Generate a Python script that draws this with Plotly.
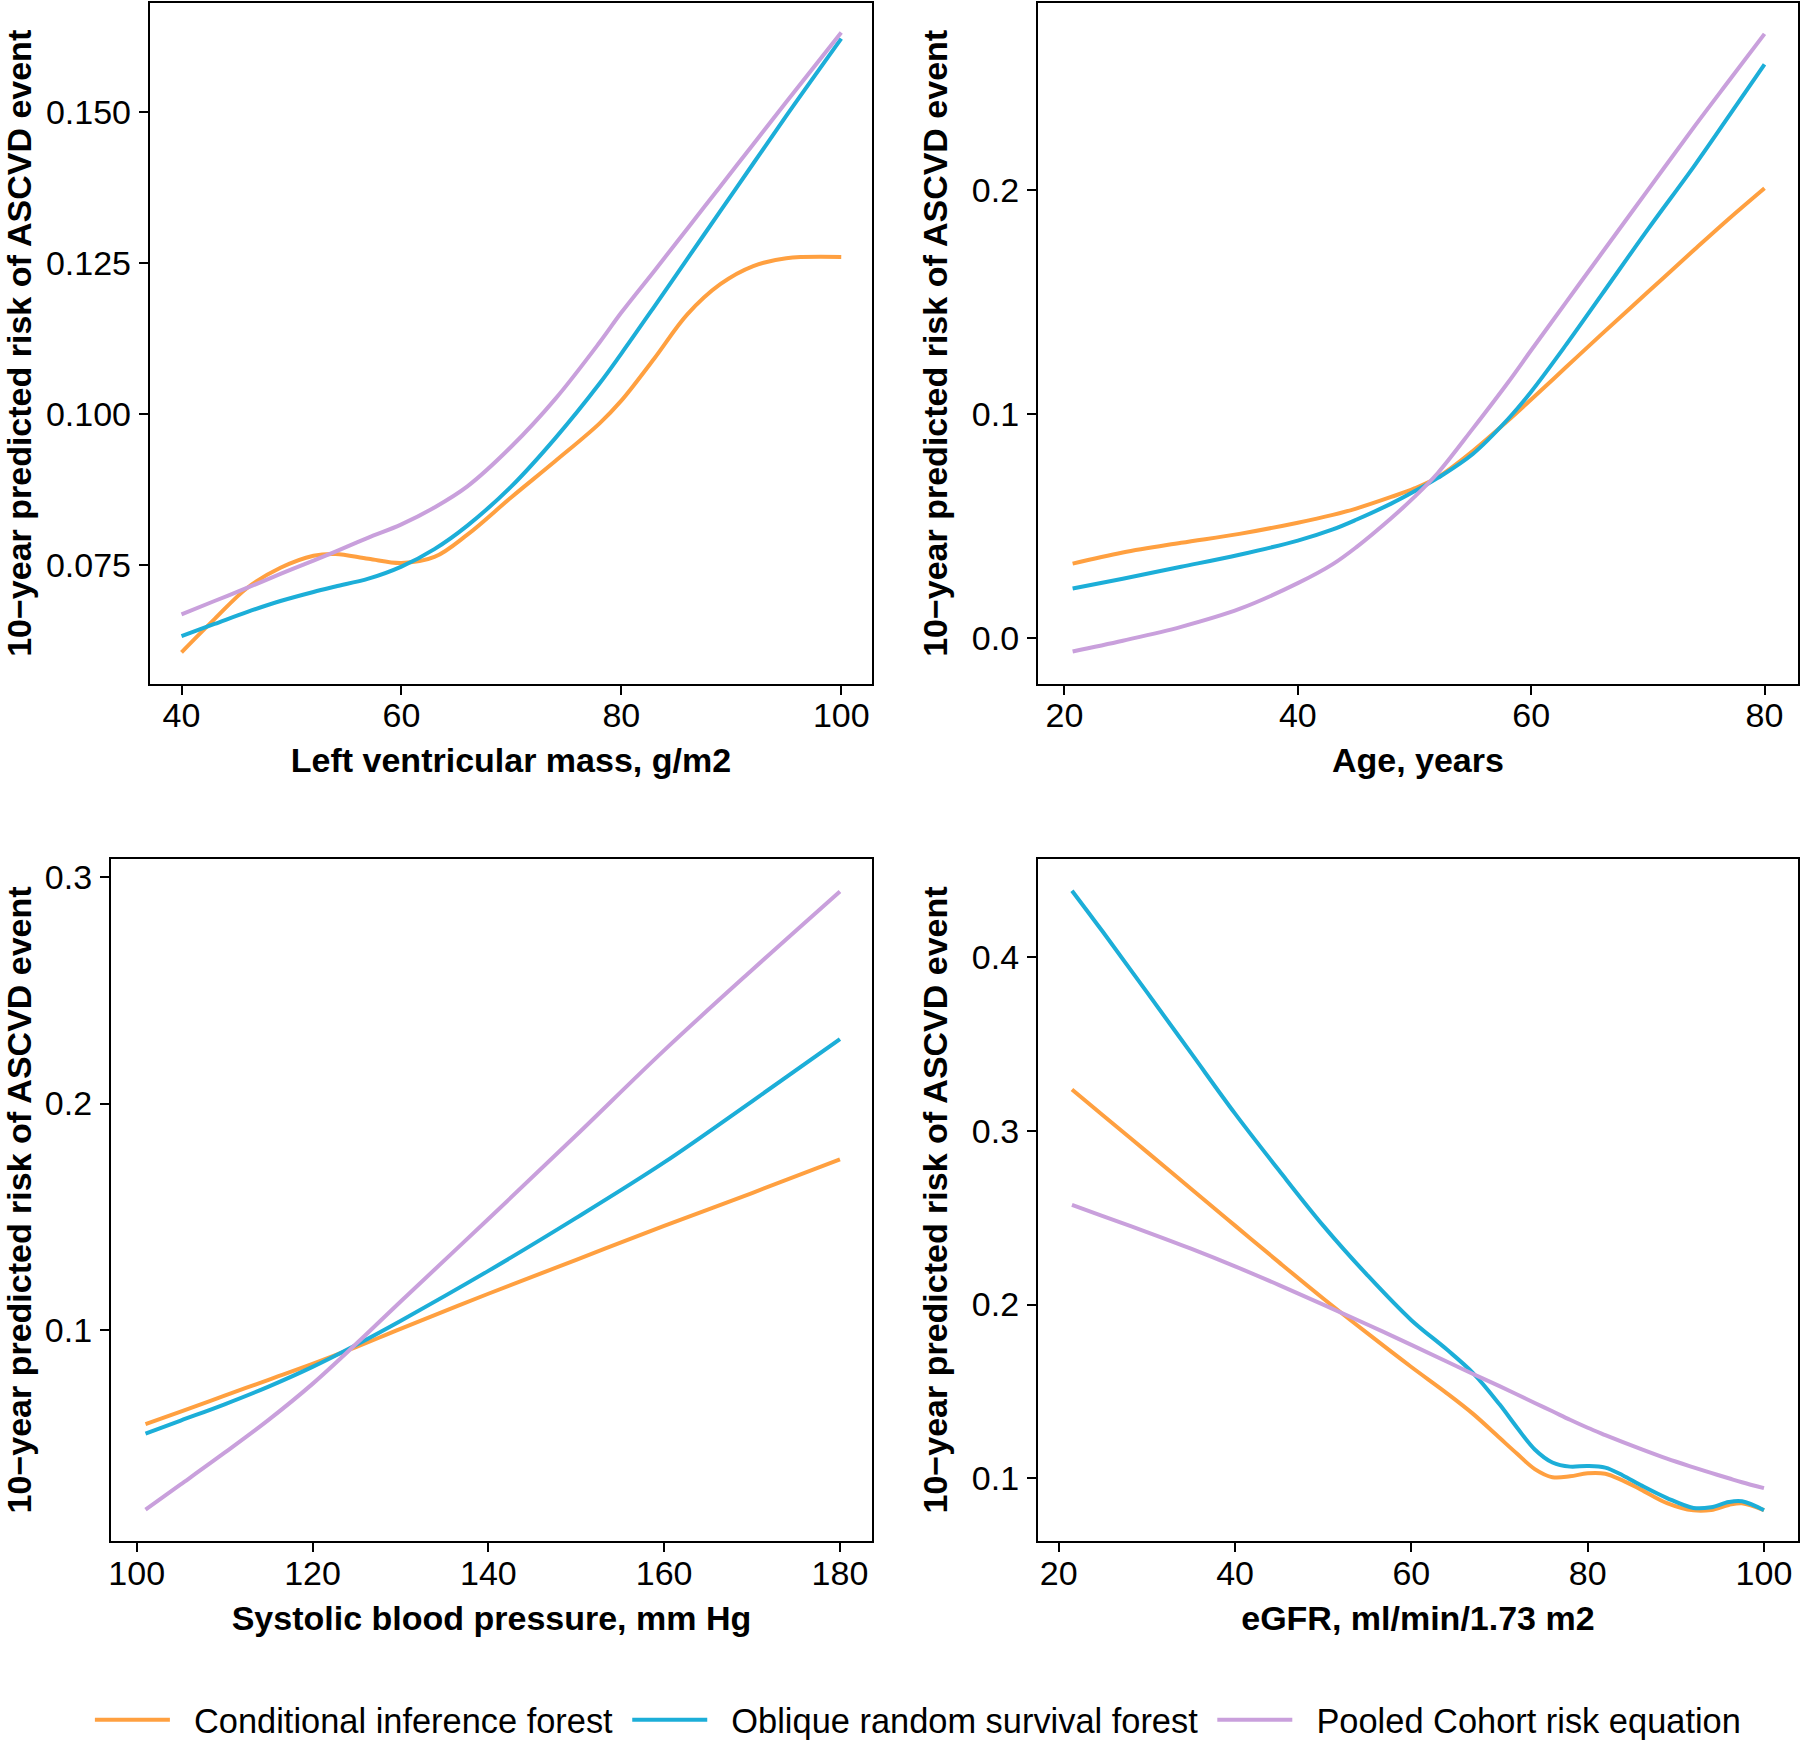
import plotly.graph_objects as go

# ---------------- data ----------------
series_names = ["Conditional inference forest", "Oblique random survival forest", "Pooled Cohort risk equation"]
series_colors = ["#FFA040", "#1CAED8", "#C9A0DC"]

# Panel 1: Left ventricular mass
lvm_x = [40, 43, 46, 49, 52, 54, 57, 60, 63, 66, 70, 74, 78, 80, 83, 86, 89, 92, 95, 100]
lvm_cif = [0.0605, 0.0660, 0.0712, 0.0745, 0.0765, 0.0768, 0.0760, 0.0753, 0.0763, 0.0800, 0.0862, 0.0922,
           0.0984, 0.1022, 0.1092, 0.1165, 0.1215, 0.1245, 0.1258, 0.1260]
lvm_orsf = [0.0632, 0.0652, 0.0672, 0.0690, 0.0705, 0.0714, 0.0727, 0.0747, 0.0776, 0.0815, 0.0880, 0.0960,
            0.1050, 0.1100, 0.1178, 0.1257, 0.1336, 0.1415, 0.1494, 0.1622]
lvm_pce = [0.0668, 0.0690, 0.0712, 0.0735, 0.0757, 0.0772, 0.0795, 0.0817, 0.0845, 0.0880, 0.0946, 0.1025,
           0.1118, 0.1168, 0.1237, 0.1307, 0.1377, 0.1447, 0.1517, 0.1632]

# Panel 2: Age
age_x = [20.7, 25, 30, 35, 40, 43, 45, 48, 50, 52, 55, 58, 60, 63, 66, 70, 74, 77, 80]
age_cif = [0.0332, 0.0382, 0.0425, 0.0465, 0.0515, 0.0550, 0.0578, 0.0630, 0.0668, 0.0718, 0.0835, 0.0970,
           0.1065, 0.1210, 0.1355, 0.1545, 0.1735, 0.1875, 0.2009]
age_orsf = [0.0221, 0.0265, 0.0318, 0.0372, 0.0435, 0.0485, 0.0528, 0.0600, 0.0655, 0.0715, 0.0822, 0.0977,
            0.1100, 0.1310, 0.1530, 0.1825, 0.2110, 0.2335, 0.2562]
age_pce = [-0.0060, -0.0012, 0.0050, 0.0130, 0.0245, 0.0330, 0.0405, 0.0535, 0.0630, 0.0737, 0.0935, 0.1140,
           0.1285, 0.1500, 0.1715, 0.2000, 0.2285, 0.2492, 0.2698]

# Panel 3: Systolic blood pressure
sbp_x = [101, 105, 110, 115, 120, 125, 130, 140, 150, 160, 170, 180]
sbp_cif = [0.0584, 0.0640, 0.0710, 0.0780, 0.0850, 0.0925, 0.1005, 0.1160, 0.1310, 0.1460, 0.1605, 0.1753]
sbp_orsf = [0.0542, 0.0600, 0.0672, 0.0750, 0.0837, 0.0935, 0.1040, 0.1261, 0.1495, 0.1740, 0.2010, 0.2285]
sbp_pce = [0.0207, 0.0318, 0.0458, 0.0603, 0.0762, 0.0940, 0.1125, 0.1490, 0.1860, 0.2235, 0.2590, 0.2937]

# Panel 4: eGFR
egfr_x = [21.5, 25, 30, 35, 40, 45, 50, 55, 60, 64, 67, 70, 72, 74, 76, 78, 80, 82, 84, 86, 89, 92, 94, 96, 97.5, 100]
egfr_cif = [0.3239, 0.3091, 0.2880, 0.2667, 0.2455, 0.2243, 0.2035, 0.1835, 0.1640, 0.1490, 0.1370, 0.1232,
            0.1140, 0.1052, 0.1005, 0.1010, 0.1028, 0.1025, 0.0985, 0.0935, 0.0856, 0.0814, 0.0816, 0.0845,
            0.0855, 0.0815]
egfr_orsf = [0.4385, 0.4148, 0.3800, 0.3450, 0.3100, 0.2772, 0.2455, 0.2170, 0.1910, 0.1742, 0.1605, 0.1425,
             0.1290, 0.1165, 0.1090, 0.1066, 0.1070, 0.1060, 0.1015, 0.0960, 0.0885, 0.0828, 0.0832, 0.0862,
             0.0866, 0.0815]
egfr_pce = [0.2574, 0.2510, 0.2418, 0.2322, 0.2220, 0.2112, 0.2000, 0.1885, 0.1768, 0.1672, 0.1600, 0.1530,
            0.1482, 0.1433, 0.1385, 0.1336, 0.1290, 0.1248, 0.1207, 0.1168, 0.1112, 0.1062, 0.1030, 0.0999,
            0.0976, 0.0942]

x_titles = ["Left ventricular mass, g/m2", "Age, years", "Systolic blood pressure, mm Hg", "eGFR, ml/min/1.73 m2"]
y_title = "10\u2212year predicted risk of ASCVD event"

x_tickvals = [[40, 60, 80, 100], [20, 40, 60, 80], [100, 120, 140, 160, 180], [20, 40, 60, 80, 100]]
y_tickvals = [[0.075, 0.100, 0.125, 0.150], [0.0, 0.1, 0.2], [0.1, 0.2, 0.3], [0.1, 0.2, 0.3, 0.4]]
y_ticktext = [["0.075", "0.100", "0.125", "0.150"], ["0.0", "0.1", "0.2"], ["0.1", "0.2", "0.3"],
              ["0.1", "0.2", "0.3", "0.4"]]

panels = [
    (lvm_x, [lvm_cif, lvm_orsf, lvm_pce]),
    (age_x, [age_cif, age_orsf, age_pce]),
    (sbp_x, [sbp_cif, sbp_orsf, sbp_pce]),
    (egfr_x, [egfr_cif, egfr_orsf, egfr_pce]),
]

# ---------------- layout geometry ----------------
W, H = 1800, 1749
x_ranges = [[37.12, 102.8], [17.72, 82.87], [97.06, 183.65], [17.63, 103.86]]
y_ranges = [[0.0553, 0.1681], [-0.0204, 0.2836], [0.0067, 0.3082], [0.0636, 0.4570]]
px_boxes = [(148, 871, 2, 687), (1037, 1798, 2, 687), (109, 871, 863, 1550), (1037, 1798, 863, 1550)]

FONT = "Arial, Liberation Sans, Helvetica, sans-serif"
FS = 34
NB = "\u00a0"

fig = go.Figure()
for i, (xs, ys_list) in enumerate(panels):
    ax = "" if i == 0 else str(i + 1)
    for j, ys in enumerate(ys_list):
        fig.add_trace(go.Scatter(
            x=xs, y=ys, mode="lines", name=NB * 2 + series_names[j] + NB * 1,
            line=dict(color=series_colors[j], width=4, shape="spline", smoothing=1.0),
            xaxis="x" + ax, yaxis="y" + ax,
            showlegend=(i == 0), legendgroup=series_names[j],
        ))

layout = dict(
    width=W, height=H,
    margin=dict(l=0, r=0, t=0, b=0),
    paper_bgcolor="white", plot_bgcolor="white",
    font=dict(family=FONT, size=FS, color="black"),
    legend=dict(orientation="h", x=88 / W, xanchor="left", y=1 - 1730 / H, yanchor="middle",
                font=dict(size=34.4, color="black"), itemwidth=75, tracegroupgap=0,
                bgcolor="rgba(0,0,0,0)"),
)

for i in range(4):
    ax = "" if i == 0 else str(i + 1)
    l, r, t, b = px_boxes[i]
    common = dict(showline=True, mirror=True, linecolor="black", linewidth=2,
                  ticks="outside", ticklen=9, tickwidth=2, tickcolor="black",
                  showgrid=False, zeroline=False,
                  tickfont=dict(family=FONT, size=FS, color="black"))
    layout["xaxis" + ax] = dict(
        common, domain=[l / W, r / W], range=x_ranges[i], anchor="y" + ax,
        tickvals=x_tickvals[i], ticktext=[str(v) for v in x_tickvals[i]], ticklabelstandoff=-8,
        title=dict(text=x_titles[i], standoff=15,
                   font=dict(family=FONT, size=FS, color="black", weight="bold")),
    )
    layout["yaxis" + ax] = dict(
        common, domain=[1 - b / H, 1 - t / H], range=y_ranges[i], anchor="x" + ax,
        tickvals=y_tickvals[i], ticktext=y_ticktext[i], ticklabelstandoff=1,
        title=dict(text=y_title, standoff=14,
                   font=dict(family=FONT, size=FS, color="black", weight="bold")),
    )

fig.update_layout(**layout)
fig.write_html("out.html", config={"displayModeBar": False},
               post_script="document.body.style.margin='0px';document.body.style.overflow='hidden';")
